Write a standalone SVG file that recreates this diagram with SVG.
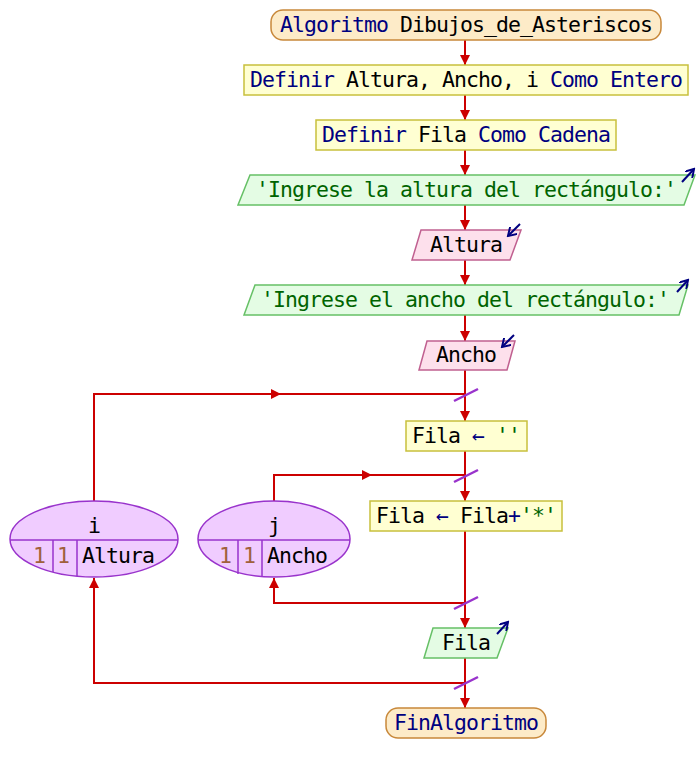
<svg xmlns="http://www.w3.org/2000/svg" width="698" height="773" viewBox="0 0 698 773">
<defs>
<marker id="ah" markerUnits="userSpaceOnUse" markerWidth="12" markerHeight="10" refX="10" refY="5" orient="auto">
<path d="M0,0 L10,5 L0,10 Z" fill="#cc0000"/>
</marker>
<marker id="io" markerUnits="userSpaceOnUse" markerWidth="10" markerHeight="10" refX="8" refY="5" orient="auto">
<path d="M0,0 L8,5 L0,10" fill="none" stroke="#000080" stroke-width="2"/>
</marker>
</defs>
<style>
text{font-family:"DejaVu Sans Mono","Liberation Mono",monospace;font-size:21.5px;letter-spacing:-0.94px;fill:#000}
.kw{fill:#000080}
.str{fill:#006400}
.num{fill:#a0603c}
.term{fill:#fdebc8;stroke:#c8883a;stroke-width:1.5}
.proc{fill:#ffffd2;stroke:#c8c03c;stroke-width:1.5}
.out{fill:#e4fce4;stroke:#66c066;stroke-width:1.5}
.in{fill:#fde0ec;stroke:#c06090;stroke-width:1.5}
.loop{fill:#f0ccff;stroke:#9933cc;stroke-width:1.5}
.ln{fill:none;stroke:#cc0000;stroke-width:2}
.sl{stroke:#9933cc;stroke-width:2.5}
.ico{stroke:#000080;stroke-width:2;fill:none}
</style>
<g id="connectors">
<path class="ln" d="M465,40 V65" marker-end="url(#ah)"/>
<path class="ln" d="M465,95 V120" marker-end="url(#ah)"/>
<path class="ln" d="M465,150 V175" marker-end="url(#ah)"/>
<path class="ln" d="M465,205 V230" marker-end="url(#ah)"/>
<path class="ln" d="M465,260 V285" marker-end="url(#ah)"/>
<path class="ln" d="M465,315 V341" marker-end="url(#ah)"/>
<path class="ln" d="M465,370 V421" marker-end="url(#ah)"/>
<path class="ln" d="M465,451 V501" marker-end="url(#ah)"/>
<path class="ln" d="M465,531 V628" marker-end="url(#ah)"/>
<path class="ln" d="M465,658 V708" marker-end="url(#ah)"/>
<path class="ln" d="M94,501 V394 H465"/>
<path class="ln" d="M94,394 H281" marker-end="url(#ah)"/>
<path class="ln" d="M274,501 V475 H465"/>
<path class="ln" d="M274,475 H372" marker-end="url(#ah)"/>
<path class="ln" d="M465,603 H274 V578" marker-end="url(#ah)"/>
<path class="ln" d="M465,683 H94 V578" marker-end="url(#ah)"/>
<line class="sl" x1="454" y1="401" x2="478" y2="389"/>
<line class="sl" x1="454" y1="482" x2="478" y2="470"/>
<line class="sl" x1="454" y1="609" x2="478" y2="597"/>
<line class="sl" x1="454" y1="689" x2="478" y2="677"/>
</g>
<g id="start">
<rect class="term" x="271" y="10" width="390" height="30" rx="12"/>
<text x="466" y="32" text-anchor="middle"><tspan class="kw">Algoritmo</tspan> Dibujos_de_Asteriscos</text>
</g>
<g id="def1">
<rect class="proc" x="244" y="65" width="444" height="30"/>
<text x="466" y="87" text-anchor="middle"><tspan class="kw">Definir</tspan> Altura, Ancho, i <tspan class="kw">Como Entero</tspan></text>
</g>
<g id="def2">
<rect class="proc" x="316" y="120" width="300" height="30"/>
<text x="466" y="142" text-anchor="middle"><tspan class="kw">Definir</tspan> Fila <tspan class="kw">Como Cadena</tspan></text>
</g>
<g id="out1">
<polygon class="out" points="250,175 695,175 684,205 238,205"/>
<text x="466" y="197" text-anchor="middle" class="str">'Ingrese la altura del rectángulo:'</text>
<line class="ico" x1="682" y1="182" x2="694" y2="169" marker-end="url(#io)"/>
</g>
<g id="in1">
<polygon class="in" points="421,230 521,230 510,260 412,260"/>
<text x="466" y="252" text-anchor="middle">Altura</text>
<line class="ico" x1="520" y1="224" x2="508" y2="236" marker-end="url(#io)"/>
</g>
<g id="out2">
<polygon class="out" points="255,285 688,285 679,315 244,315"/>
<text x="465" y="307" text-anchor="middle" class="str">'Ingrese el ancho del rectángulo:'</text>
<line class="ico" x1="677" y1="292" x2="688" y2="280" marker-end="url(#io)"/>
</g>
<g id="in2">
<polygon class="in" points="427,341 515,341 507,370 419,370"/>
<text x="466" y="362" text-anchor="middle">Ancho</text>
<line class="ico" x1="514" y1="335" x2="502" y2="347" marker-end="url(#io)"/>
</g>
<g id="loopI">
<ellipse class="loop" cx="94" cy="539" rx="84" ry="38"/>
<line x1="10" y1="540" x2="178" y2="540" stroke="#9933cc" stroke-width="1.5"/>
<line x1="53" y1="540" x2="53" y2="572" stroke="#9933cc" stroke-width="1.5"/>
<line x1="77" y1="540" x2="77" y2="576" stroke="#9933cc" stroke-width="1.5"/>
<text x="94" y="533" text-anchor="middle">i</text>
<text x="39" y="563" text-anchor="middle" class="num">1</text>
<text x="63" y="563" text-anchor="middle" class="num">1</text>
<text x="82" y="563">Altura</text>
</g>
<g id="loopJ">
<ellipse class="loop" cx="274" cy="539" rx="76" ry="38"/>
<line x1="198" y1="540" x2="350" y2="540" stroke="#9933cc" stroke-width="1.5"/>
<line x1="238" y1="540" x2="238" y2="574" stroke="#9933cc" stroke-width="1.5"/>
<line x1="262" y1="540" x2="262" y2="576" stroke="#9933cc" stroke-width="1.5"/>
<text x="274" y="533" text-anchor="middle">j</text>
<text x="225" y="563" text-anchor="middle" class="num">1</text>
<text x="249" y="563" text-anchor="middle" class="num">1</text>
<text x="267" y="563">Ancho</text>
</g>
<g id="asig1">
<rect class="proc" x="406" y="421" width="121" height="30"/>
<text x="466" y="443" text-anchor="middle">Fila <tspan class="kw">←</tspan> <tspan class="str">''</tspan></text>
</g>
<g id="asig2">
<rect class="proc" x="370" y="501" width="192" height="30"/>
<text x="466" y="523" text-anchor="middle">Fila <tspan class="kw">←</tspan> Fila<tspan class="kw">+</tspan><tspan class="str">'*'</tspan></text>
</g>
<g id="out3">
<polygon class="out" points="433,628 508,628 497,658 424,658"/>
<text x="466" y="650" text-anchor="middle">Fila</text>
<line class="ico" x1="497" y1="634" x2="508" y2="622" marker-end="url(#io)"/>
</g>
<g id="end">
<rect class="term" x="386" y="708" width="160" height="30" rx="12"/>
<text x="466" y="730" text-anchor="middle" class="kw">FinAlgoritmo</text>
</g>
</svg>
